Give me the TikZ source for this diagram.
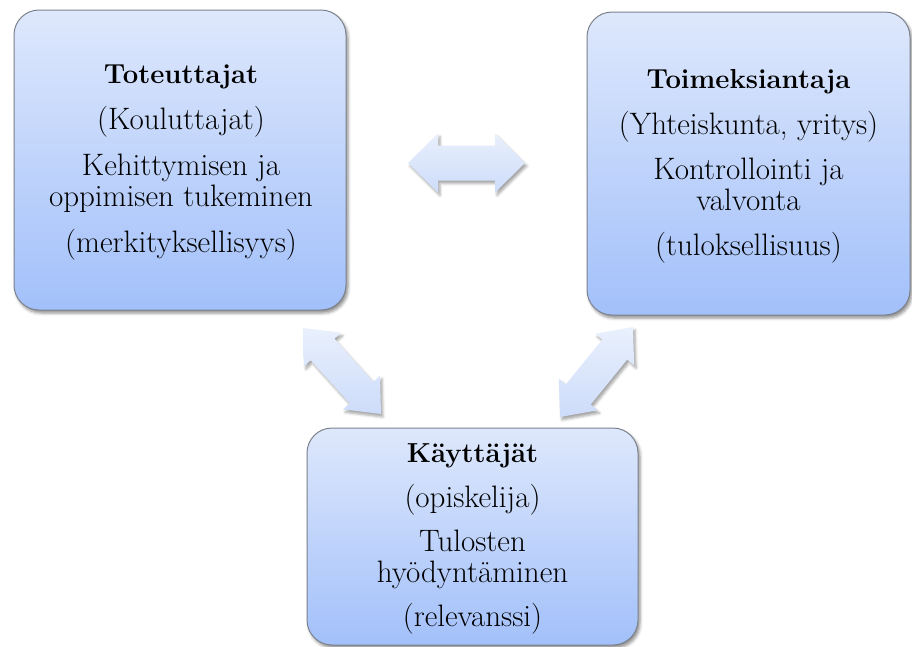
\documentclass[tikz,border=0pt]{standalone}
\usepackage{fontspec}
\usetikzlibrary{calc,shadows.blur}
\definecolor{boxtop}{HTML}{DEE8FC}
\definecolor{boxbot}{HTML}{A2C0FA}
\definecolor{boxline}{HTML}{7C828C}
\definecolor{arrtop}{HTML}{E9F0FD}
\definecolor{arrbot}{HTML}{CDDCFA}
\tikzset{
  box/.style={draw=boxline, line width=1pt, rounded corners=25pt,
    top color=boxtop, bottom color=boxbot, inner sep=0pt,
    blur shadow={shadow xshift=2pt, shadow yshift=-3pt, shadow blur radius=3pt, shadow opacity=45}},
  txt/.style={align=center, inner sep=0pt, font=\fontsize{31}{31}\selectfont},
  arr/.style={top color=arrtop, bottom color=arrbot,
    blur shadow={shadow xshift=2pt, shadow yshift=-3pt, shadow blur radius=2.5pt, shadow opacity=35}}
}
\newcommand\ttlfont{\bfseries\fontsize{27.5}{31}\selectfont}
% #1 start, #2 end, #3 head length, #4 head half width, #5 shaft half width
\newcommand\mydblarrow[5]{%
  \coordinate (#1h) at ($(#1)!#3!(#2)$);
  \coordinate (#2h) at ($(#2)!#3!(#1)$);
  \path[arr] (#1)
    -- ($(#1h)!#4!90:(#2)$) -- ($(#1h)!#5!90:(#2)$)
    -- ($(#2h)!#5!-90:(#1)$) -- ($(#2h)!#4!-90:(#1)$)
    -- (#2)
    -- ($(#2h)!#4!90:(#1)$) -- ($(#2h)!#5!90:(#1)$)
    -- ($(#1h)!#5!-90:(#2)$) -- ($(#1h)!#4!-90:(#2)$)
    -- cycle;
}
\begin{document}
\begin{tikzpicture}[x=1pt,y=-1pt]
\useasboundingbox (0,0) rectangle (912,646);
\node[box, minimum width=332pt, minimum height=300pt] (tot) at (180,160) {};
\node[box, minimum width=323pt, minimum height=303pt] (toi) at (748.5,163.5) {};
\node[box, minimum width=331pt, minimum height=217pt] (kay) at (472.5,536.5) {};
\node[txt] (totx) at ($(tot.center)+(1,3)$)
  {{\ttlfont Toteuttajat}\\[15pt](Kouluttajat)\\[15pt]Kehittymisen ja\\oppimisen tukeminen\\[15pt](merkityksellisyys)};
\node[txt] (toix) at ($(toi.center)+(0,3)$)
  {{\ttlfont Toimeksiantaja}\\[15pt](Yhteiskunta, yritys)\\[14pt]Kontrollointi ja\\valvonta\\[14pt](tuloksellisuus)};
\node[txt] (kayx) at ($(kay.center)+(0,2)$)
  {{\ttlfont Käyttäjät}\\[14pt](opiskelija)\\[13pt]Tulosten\\hyödyntäminen\\[13pt](relevanssi)};
\coordinate (hA) at (408,163);
\coordinate (hB) at (525,163);
\coordinate (lA) at (303,328);
\coordinate (lB) at (381,414);
\coordinate (rA) at (633,327);
\coordinate (rB) at (560,417);
\mydblarrow{hA}{hB}{30pt}{29.5pt}{17.5pt}
\mydblarrow{lA}{lB}{29pt}{25pt}{16pt}
\mydblarrow{rA}{rB}{29pt}{25pt}{16pt}
\end{tikzpicture}
\end{document}
